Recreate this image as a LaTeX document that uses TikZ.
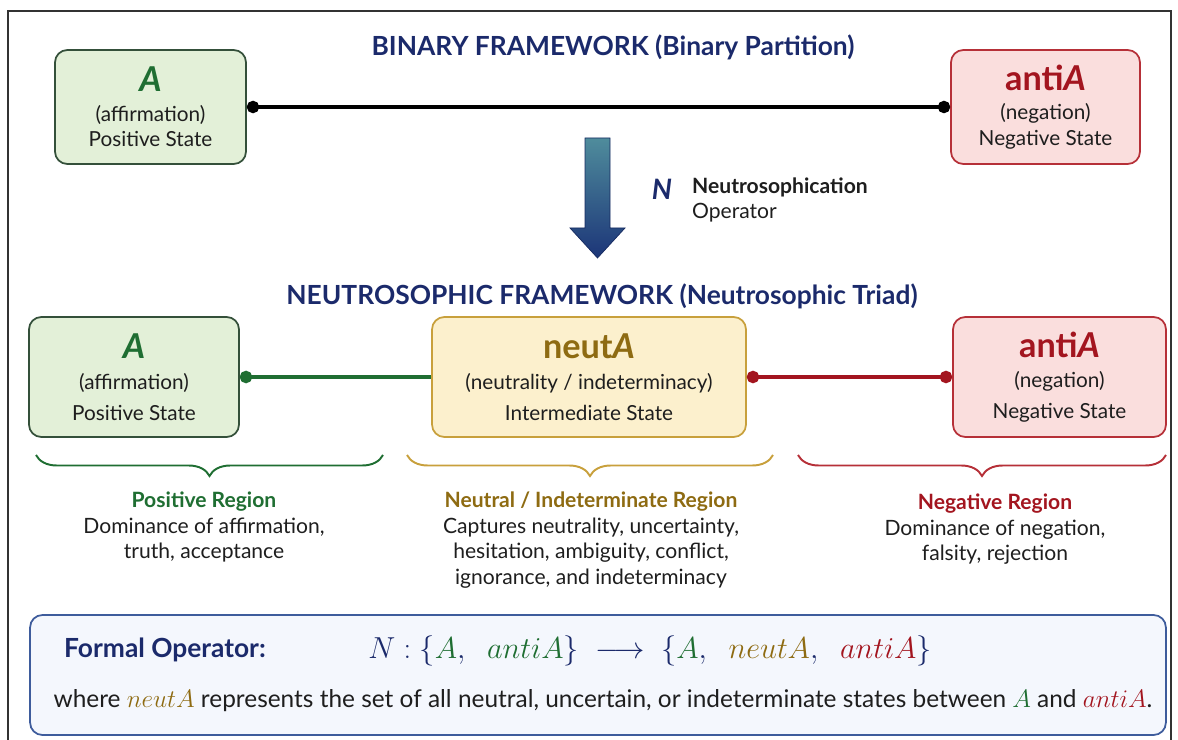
\documentclass[tikz,border=0pt]{standalone}
\usepackage{fontspec}
\setmainfont{Lato}
\usetikzlibrary{positioning,arrows.meta,decorations.pathreplacing}

\definecolor{ink}{HTML}{1E1E1E}
\definecolor{navy}{HTML}{1B2A6B}
\definecolor{posgreen}{HTML}{1F6E32}
\definecolor{posfill}{HTML}{E3F0D8}
\definecolor{posedge}{HTML}{34503A}
\definecolor{neugold}{HTML}{8E6B12}
\definecolor{neufill}{HTML}{FCF0CD}
\definecolor{neuedge}{HTML}{C8A03C}
\definecolor{negred}{HTML}{A3151F}
\definecolor{negfill}{HTML}{FADEDD}
\definecolor{negedge}{HTML}{B63038}
\definecolor{opfill}{HTML}{F4F7FD}
\definecolor{opedge}{HTML}{3E5C9C}
\definecolor{arrtop}{HTML}{4F8C9C}
\definecolor{arrbot}{HTML}{1C3578}

\newcommand{\bigname}[2]{{\fontsize{19.5}{22}\selectfont\bfseries\color{#1}#2}}

\begin{document}
\begin{tikzpicture}[x=0.02cm,y=-0.02cm,
  every node/.style={text=ink},
  title/.style={font=\fontsize{15}{18}\selectfont\bfseries, text=navy},
  statebox/.style={draw, rounded corners=7pt, line width=1pt, align=center, inner sep=0pt,
    font=\fontsize{11.8}{14.7}\selectfont},
  lowbox/.style={statebox, font=\fontsize{11.8}{17.5}\selectfont},
  posbox/.style={fill=posfill, draw=posedge},
  neubox/.style={fill=neufill, draw=neuedge},
  negbox/.style={fill=negfill, draw=negedge},
  region/.style={align=center, anchor=north, font=\fontsize{12}{14.5}\selectfont},
  brc/.style={decorate, decoration={brace, mirror, amplitude=0.42cm}, line width=1.1pt}
]
\useasboundingbox (0,0) rectangle (1178,740);
\draw[line width=1.1pt, black!80] (8,11) rectangle (1171,760);

% binary framework
\node[title] (binTitle) at (613,47) {BINARY FRAMEWORK (Binary Partition)};
\node[statebox, posbox, minimum width=3.82cm, minimum height=2.28cm] (topA) at (150.5,107)
  {\bigname{posgreen}{\textit{A}}\\[2pt](affirmation)\\Positive State};
\node[statebox, negbox, minimum width=3.78cm, minimum height=2.28cm] (topAnti) at (1045.5,107)
  {\bigname{negred}{anti\textit{A}}\\[2pt](negation)\\Negative State};
\draw[line width=2.2pt, black, {Circle[length=7pt]}-{Circle[length=7pt]}] (topA) -- (topAnti);

% operator arrow
\shade[top color=arrtop, bottom color=arrbot, draw=arrbot!80!black, line width=0.4pt]
  (585,138) -- (610,138) -- (610,228) -- (625,228) -- (597.5,258) -- (570,228) -- (585,228) -- cycle;
\node[font=\fontsize{16}{18}\selectfont\bfseries\itshape, text=navy] (nSym) at (662,189) {N};
\node[anchor=west, align=left, font=\fontsize{12}{14}\selectfont] (nText) at (686,200)
  {\textbf{Neutrosophication}\\Operator};

% neutrosophic framework
\node[title] (neuTitle) at (602,296) {NEUTROSOPHIC FRAMEWORK (Neutrosophic Triad)};
\node[lowbox, posbox, minimum width=4.2cm, minimum height=2.4cm] (lowA) at (134,377)
  {\bigname{posgreen}{\textit{A}}\\[0pt](affirmation)\\Positive State};
\node[lowbox, neubox, minimum width=6.28cm, minimum height=2.4cm] (neut) at (589,377)
  {\bigname{neugold}{neut\textit{A}}\\[0pt](neutrality / indeterminacy)\\Intermediate State};
\node[lowbox, negbox, minimum width=4.26cm, minimum height=2.4cm] (lowAnti) at (1059.5,377)
  {\bigname{negred}{anti\textit{A}}\\[0pt](negation)\\Negative State};
\draw[line width=2.8pt, posgreen, {Circle[length=7pt]}-] (lowA) -- (neut);
\draw[line width=2.8pt, negred, {Circle[length=7pt]}-{Circle[length=7pt]}] (neut) -- (lowAnti);

% regions
\coordinate (posL) at (36,455);
\coordinate (posR) at (383,455);
\coordinate (neuL) at (407,455);
\coordinate (neuR) at (773,455);
\coordinate (negL) at (798,455);
\coordinate (negR) at (1166,455);
\draw[brc, posgreen] (posL) -- (posR);
\draw[brc, neuedge] (neuL) -- (neuR);
\draw[brc, negedge] (negL) -- (negR);
\node[region] (posReg) at (204,486)
  {\textbf{\color{posgreen}Positive Region}\\Dominance of affirmation,\\truth, acceptance};
\node[region] (neuReg) at (591,486)
  {\textbf{\color{neugold}Neutral / Indeterminate Region}\\Captures neutrality, uncertainty,\\hesitation, ambiguity, conflict,\\ignorance, and indeterminacy};
\node[region] (negReg) at (995,488)
  {\textbf{\color{negred}Negative Region}\\Dominance of negation,\\falsity, rejection};

% formal operator
\node[draw=opedge, fill=opfill, line width=1pt, rounded corners=7pt, minimum width=22.72cm,
  minimum height=2.4cm] (opBox) at (598,675) {};
\node[anchor=west, font=\fontsize{15}{18}\selectfont\bfseries, text=navy] (opName) at (58,650) {Formal Operator:};
\node[font=\fontsize{18.5}{22}\selectfont, text=navy] (opMap) at (650,651)
  {$N:\{\textcolor{posgreen}{A},\ \ \textcolor{posgreen}{antiA}\}\ \longrightarrow\ \{\textcolor{posgreen}{A},\ \ \textcolor{neugold}{neutA},\ \ \textcolor{negred}{antiA}\}$};
\node[font=\fontsize{13.9}{16}\selectfont] (opNote) at (603,701)
  {where $\textcolor{neugold}{neutA}$ represents the set of all neutral, uncertain, or indeterminate states between $\textcolor{posgreen}{A}$ and $\textcolor{negred}{antiA}$.};
\end{tikzpicture}
\end{document}
